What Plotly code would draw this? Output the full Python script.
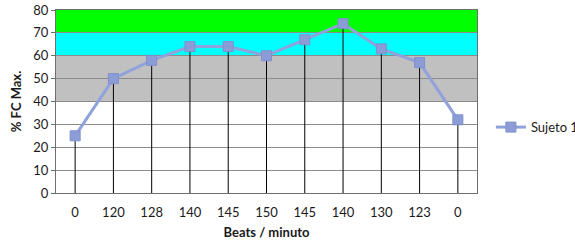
import plotly.graph_objects as go

categories = ["0", "120", "128", "140", "145", "150", "145", "140", "130", "123", "0"]
values = [25, 50, 58, 64, 64, 60, 67, 74, 63, 57, 32]
series_name = "Sujeto 1"
bands = [(40, 60, "#C0C0C0"), (60, 70, "#00FFFF"), (70, 80, "#00FF00")]
y_ticks = [0, 10, 20, 30, 40, 50, 60, 70, 80]

idx = list(range(len(categories)))
font = "Lato, Open Sans, sans-serif"

fig = go.Figure()

# drop lines from each point to the axis
dx, dy = [], []
for i, v in zip(idx, values):
    dx += [i, i, None]
    dy += [0, v, None]
fig.add_trace(go.Scatter(x=dx, y=dy, mode="lines", line=dict(color="black", width=1),
                         showlegend=False, hoverinfo="skip"))

fig.add_trace(go.Scatter(x=idx, y=values, mode="lines+markers", name=series_name,
                         line=dict(color="#8FA2DC", width=3),
                         marker=dict(symbol="square", size=10, color="#8C9CD6",
                                     line=dict(color="#7F90CC", width=1))))

for lo, hi, col in bands:
    fig.add_shape(type="rect", xref="paper", yref="y", x0=0, x1=1, y0=lo, y1=hi,
                  fillcolor=col, line=dict(width=0), layer="below")

fig.update_layout(
    width=575, height=249,
    margin=dict(l=56, r=98, t=10, b=56, autoexpand=False),
    paper_bgcolor="white", plot_bgcolor="white",
    font=dict(family=font, size=13, color="#1a1a1a"),
    legend=dict(x=1.033, y=0.36, xanchor="left", yanchor="middle",
                font=dict(size=13), bgcolor="rgba(0,0,0,0)", itemwidth=30),
    xaxis=dict(range=[-0.5, len(categories) - 0.5], tickvals=idx, ticktext=categories,
               showgrid=False, zeroline=False, showline=True, mirror=True,
               linecolor="#6e6e6e", linewidth=1, ticks="", ticklabelstandoff=7,
               automargin=False,
               title=dict(text="<b>Beats / minuto</b>", standoff=9, font=dict(size=13))),
    yaxis=dict(range=[0, 80], tickvals=y_ticks, showgrid=True, gridcolor="#8c8c8c",
               gridwidth=1, zeroline=False, showline=True, mirror=True,
               linecolor="#6e6e6e", linewidth=1, ticks="outside", ticklen=4,
               tickcolor="#6e6e6e", automargin=False,
               title=dict(text="<b>% FC Max.</b>", standoff=8, font=dict(size=13))),
)

# remove the page's default body margin so the figure fills the window
fig.write_html("out.html", config={"displayModeBar": False},
               post_script="document.body.style.margin='0';")
